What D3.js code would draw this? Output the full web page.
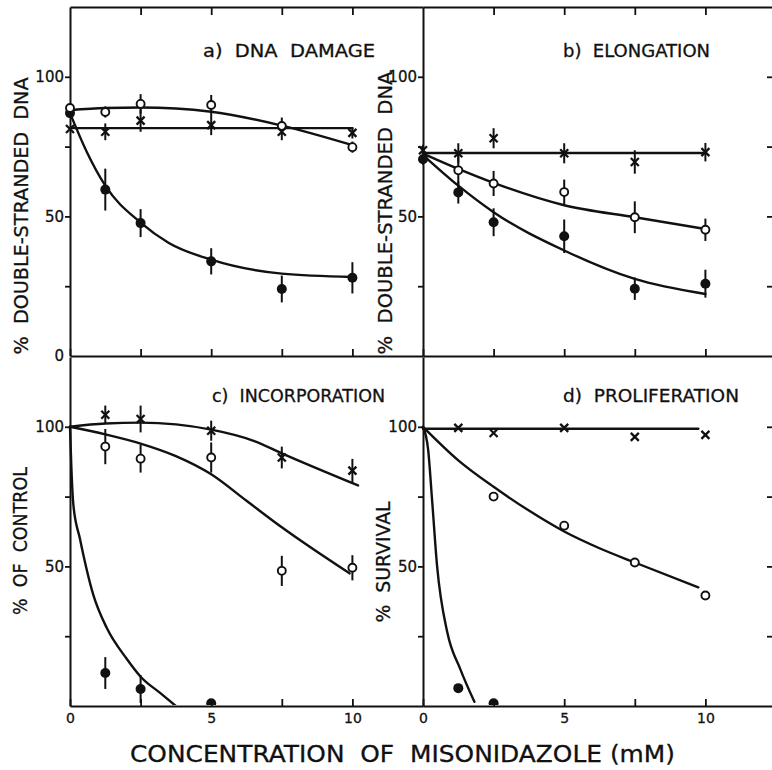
<!DOCTYPE html>
<html><head><meta charset="utf-8">
<script src="https://cdn.jsdelivr.net/npm/d3@7"></script>
<style>html,body{margin:0;padding:0;background:#fff;} svg{display:block;} text{white-space:pre;}</style>
</head><body>
<script>
// ---------- DATA ----------
const conc = [0, 1.25, 2.5, 5, 7.5, 10];
const yTicks = [0, 25, 50, 75, 100];
const xTicks = [0, 2.5, 5, 7.5, 10];
const xTickLabels = {0: "0", 5: "5", 10: "10"};
const yTickLabels = {100: "100", 50: "50"};

const panelTitles = ["a)  DNA  DAMAGE", "b)  ELONGATION", "c)  INCORPORATION", "d)  PROLIFERATION"];
const yAxisTitles = ["%  DOUBLE-STRANDED  DNA", "%  DOUBLE-STRANDED  DNA", "%  OF  CONTROL", "%  SURVIVAL"];
const xAxisTitle = "CONCENTRATION  OF  MISONIDAZOLE (mM)";

// a) DNA damage
const aOpen = [88.8, 87.4, 90.3, 89.9, 82.4, 74.8];
const aOpenErr = [0, 2, 3.5, 3.6, 3, 2];
const aCross = [81.3, 80.3, 84.3, 82.7, 80.3, 79.9];
const aCrossErr = [0, 3, 4, 3.6, 3, 2];
const aFilled = [87, 59.6, 47.6, 33.9, 24, 28];
const aFilledErr = [0, 7.5, 5, 4.7, 4.8, 5.6];
const aOpenFit = [[0, 88.1], [1.25, 88.8], [2.5, 89], [5, 87.5], [7.5, 82.5], [10, 75.5]];
const aCrossFit = [[0, 81.6], [10, 81.6]];
const aFilledFit = [[0, 87], [0.6, 73], [1.25, 61], [2.5, 47.8], [3.5, 40.5], [5, 34.5], [7.5, 29.5], [10, 28.3]];

// b) Elongation
const bOpen = [null, 66.5, 61.8, 58.7, 49.7, 45.2];
const bOpenErr = [0, 6, 4.5, 4.5, 5.7, 4];
const bCross = [73.7, 72.6, 78, 72.6, 69.5, 73];
const bCrossErr = [2, 3.6, 3.6, 3.6, 4.2, 3.3];
const bFilled = [70.5, 58.6, 47.9, 42.9, 24.1, 25.9];
const bFilledErr = [2, 4, 5, 6, 4, 5];
const bOpenFit = [[0, 72.5], [1.25, 67], [2.5, 62], [5, 54], [7.5, 49.7], [10, 45.5]];
const bCrossFit = [[0, 72.7], [10, 72.7]];
const bFilledFit = [[0, 72], [1.25, 61], [2.5, 51.5], [5, 37.8], [7.5, 27.6], [10, 22.2]];

// c) Incorporation
const cOpen = [null, 92.9, 88.6, 89, 48.4, 49.5];
const cOpenErr = [0, 6.3, 5, 5.4, 5.4, 4.5];
const cCross = [null, 104.3, 102.8, 98.6, 89, 84.3];
const cCrossErr = [0, 3.3, 4.8, 3.6, 3.9, 4.2];
const cFilled = [null, 11.8, 6.1, 1, null, null];
const cFilledErr = [0, 5.7, 5, 0, 0, 0];
const cOpenFit = [[0, 100], [1.25, 97.3], [2.5, 94], [3.75, 89.5], [5, 83], [6.25, 73.5], [7.5, 64], [9.9, 47.5]];
const cCrossFit = [[0, 100], [1.25, 101.2], [2.5, 101.5], [5, 99], [6.5, 95], [7.5, 90.5], [10.2, 79]];
const cFilledFit = [[0, 100], [0.05, 85], [0.12, 72], [0.35, 60], [0.82, 40], [1.3, 28], [2.0, 17], [2.5, 10.5], [3.2, 4.6], [3.75, 0]];

// d) Proliferation
const dOpen = [null, null, 75, 64.6, 51.4, 39.6];
const dCross = [null, 99.6, 97.8, 99.6, 96.4, 97.1];
const dFilled = [null, 6.4, 1, null, null, null];
const dOpenFit = [[0, 100], [1.25, 88], [2.5, 78.5], [3.75, 70], [5, 62.5], [6.25, 56.5], [7.5, 51.4], [9.75, 42.5]];
const dCrossFit = [[0, 99.3], [9.75, 99.3]];
const dFilledFit = [[0, 100], [0.18, 92], [0.32, 74], [0.5, 50], [0.86, 26.4], [1.32, 13.2], [1.82, 1.5]];

// ---------- LAYOUT ----------
const W = 772, H = 770;
const FONT = "'DejaVu Sans', 'Liberation Sans', Arial, sans-serif";
const INK = "#111";
const colX = [70, 423], rowY = [7, 357];
const PW = 353, PH = 349;

const panels = [
  {col: 0, row: 0, open: aOpen, openErr: aOpenErr, cross: aCross, crossErr: aCrossErr, filled: aFilled, filledErr: aFilledErr,
   fits: [aOpenFit, aCrossFit, aFilledFit], title: {x: 203, y: 57, len: 172}, ytitle: {cx: 21, cy: 216, len: 277}, zeroLabel: true},
  {col: 1, row: 0, open: bOpen, openErr: bOpenErr, cross: bCross, crossErr: bCrossErr, filled: bFilled, filledErr: bFilledErr,
   fits: [bOpenFit, bCrossFit, bFilledFit], title: {x: 563, y: 57, len: 147}, ytitle: {cx: 385, cy: 213, len: 283}},
  {col: 0, row: 1, open: cOpen, openErr: cOpenErr, cross: cCross, crossErr: cCrossErr, filled: cFilled, filledErr: cFilledErr,
   fits: [cOpenFit, cCrossFit, cFilledFit], title: {x: 212, y: 402, len: 173}, ytitle: {cx: 20, cy: 541, len: 148}},
  {col: 1, row: 1, open: dOpen, openErr: null, cross: dCross, crossErr: null, filled: dFilled, filledErr: null,
   fits: [dOpenFit, dCrossFit, dFilledFit], title: {x: 563, y: 402, len: 176}, ytitle: {cx: 383, cy: 562, len: 121}},
];

const svg = d3.select("body").append("svg").attr("width", W).attr("height", H)
  .style("font-family", FONT);
svg.append("rect").attr("width", W).attr("height", H).attr("fill", "#fff");

function styleAxis(g) {
  g.selectAll("path.domain").attr("stroke", INK).attr("stroke-width", 2);
  g.selectAll(".tick line").attr("stroke", INK).attr("stroke-width", 1.8);
  g.selectAll(".tick text").attr("fill", INK).attr("font-family", FONT)
    .attr("stroke", INK).attr("stroke-width", 0.3);
  g.attr("font-family", FONT);
}

panels.forEach((p, i) => {
  const left = colX[p.col], top = rowY[p.row];
  const x = d3.scaleLinear().domain([0, 12.5]).range([left, left + PW]);
  const y = d3.scaleLinear().domain([0, 125]).range([top + PH, top]);
  const g = svg.append("g");
  const bottomRow = p.row === 1;

  // bottom x axis (ticks inward)
  const xa = d3.axisBottom(x).tickValues(xTicks).tickSize(-7).tickSizeOuter(0).tickPadding(7)
    .tickFormat(d => bottomRow ? (xTickLabels[d] || "") : "");
  g.append("g").attr("transform", `translate(0,${y(0)})`).call(xa).call(styleAxis)
    .selectAll("text").attr("font-size", 14);

  // top border with inward ticks (upper panels only)
  if (!bottomRow) {
    const xt = d3.axisTop(x).tickValues(xTicks.slice(1)).tickSize(-8).tickSizeOuter(0).tickFormat("");
    g.append("g").attr("transform", `translate(0,${y(125)})`).call(xt).call(styleAxis);
  }

  // left y axis (ticks outward)
  const ya = d3.axisLeft(y).tickValues(yTicks).tickSize(5).tickSizeOuter(0).tickPadding(1)
    .tickFormat(d => (d === 0 ? (p.zeroLabel ? "0" : "") : (yTickLabels[d] || "")));
  const yg = g.append("g").attr("transform", `translate(${x(0)},0)`).call(ya).call(styleAxis);
  yg.selectAll("text").attr("font-size", 15);
  yg.selectAll(".tick").filter(d => d === 0).select("line").attr("stroke-width", 0);

  // right axis ticks (right panels)
  if (p.col === 1) {
    const yr = d3.axisRight(y).tickValues(yTicks.slice(1)).tickSize(-9).tickSizeOuter(0).tickFormat("");
    g.append("g").attr("transform", `translate(${x(12.5)},0)`).call(yr).call(styleAxis);
  }

  // clip so marks sit on the bottom axis
  const clipId = "clip" + i;
  svg.append("clipPath").attr("id", clipId).append("rect")
    .attr("x", left - 30).attr("y", top - 10).attr("width", PW + 40).attr("height", PH + 9);
  const plot = g.append("g").attr("clip-path", `url(#${clipId})`);

  // fitted curves
  const line = d3.line().x(d => x(d[0])).y(d => y(d[1])).curve(d3.curveMonotoneX);
  p.fits.forEach(f => {
    plot.append("path").attr("d", line(f)).attr("fill", "none").attr("stroke", INK)
      .attr("stroke-width", 2.4).attr("stroke-linecap", "round");
  });

  // error bars
  function errBars(vals, errs) {
    if (!errs) return;
    conc.forEach((c, k) => {
      if (vals[k] == null || !errs[k]) return;
      plot.append("line").attr("x1", x(c)).attr("x2", x(c))
        .attr("y1", y(vals[k] - errs[k])).attr("y2", y(vals[k] + errs[k]))
        .attr("stroke", INK).attr("stroke-width", 2);
    });
  }
  errBars(p.open, p.openErr);
  errBars(p.cross, p.crossErr);
  errBars(p.filled, p.filledErr);

  // markers
  const idx = d3.range(conc.length);
  plot.selectAll(null).data(idx.filter(k => p.filled[k] != null)).join("circle")
    .attr("cx", k => x(conc[k])).attr("cy", k => y(p.filled[k])).attr("r", 5).attr("fill", INK);
  plot.selectAll(null).data(idx.filter(k => p.open[k] != null)).join("circle")
    .attr("cx", k => x(conc[k])).attr("cy", k => y(p.open[k])).attr("r", 4)
    .attr("fill", "#fff").attr("stroke", INK).attr("stroke-width", 1.9);
  const s = 4;
  plot.selectAll(null).data(idx.filter(k => p.cross[k] != null)).join("path")
    .attr("d", k => { const cx = x(conc[k]), cy = y(p.cross[k]);
      return `M${cx - s},${cy - s}L${cx + s},${cy + s}M${cx - s},${cy + s}L${cx + s},${cy - s}`; })
    .attr("stroke", INK).attr("stroke-width", 2.3).attr("fill", "none");

  // panel title
  svg.append("text").attr("x", p.title.x).attr("y", p.title.y).attr("font-size", 17).attr("fill", INK)
    .attr("stroke", INK).attr("stroke-width", 0.3)
    .attr("textLength", p.title.len).attr("lengthAdjust", "spacingAndGlyphs").text(panelTitles[i]);

  // y axis title
  const fs = 19;
  svg.append("text").attr("transform", `translate(${p.ytitle.cx + 0.36 * fs},${p.ytitle.cy}) rotate(-90)`)
    .attr("text-anchor", "middle").attr("font-size", fs).attr("fill", INK)
    .attr("stroke", INK).attr("stroke-width", 0.3)
    .attr("textLength", p.ytitle.len).attr("lengthAdjust", "spacingAndGlyphs").text(yAxisTitles[i]);
});

// x axis title
svg.append("text").attr("x", 130).attr("y", 762).attr("font-size", 23).attr("fill", INK)
  .attr("stroke", INK).attr("stroke-width", 0.3)
  .attr("textLength", 545).attr("lengthAdjust", "spacingAndGlyphs").text(xAxisTitle);
</script>
</body></html>
